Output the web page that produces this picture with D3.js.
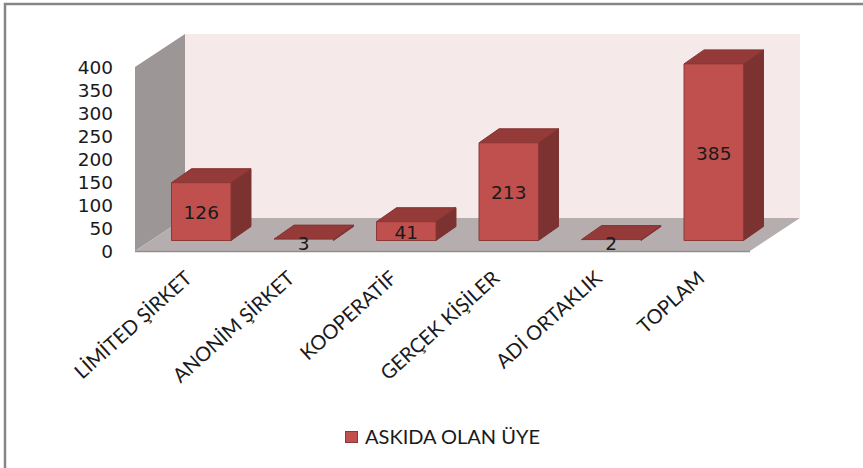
<!DOCTYPE html>
<html><head><meta charset="utf-8">
<script src="https://cdn.jsdelivr.net/npm/d3@7"></script>
<style>html,body{margin:0;padding:0;background:#fff}svg{display:block}</style></head>
<body><div id="c"></div>
<script>
const categories = ["LİMİTED ŞİRKET","ANONİM ŞİRKET","KOOPERATİF","GERÇEK KİŞİLER","ADİ ORTAKLIK","TOPLAM"];
const seriesName = "ASKIDA OLAN ÜYE";
const values = [126,3,41,213,2,385];
const yTicks = [0,50,100,150,200,250,300,350,400];

const W=863,H=468;
const svg=d3.select("#c").append("svg").attr("width",W).attr("height",H);
svg.append("rect").attr("x",5).attr("y",4).attr("width",W+10).attr("height",H+10)
  .attr("fill","#fff").attr("stroke","#868686").attr("stroke-width",2.5);

const y=d3.scaleLinear().domain([0,400]).range([251,67]);
const yBar=d3.scaleLinear().domain([0,400]).range([240.5,57]);
const x=d3.scaleBand().domain(categories).range([150,765]).paddingInner(0.42).paddingOuter(0.21);
const xL=135,xR=750;
const wall={dx:50,dy:-33}, bar={dx:20,dy:-14};
const poly=(pts,fill,stroke)=>svg.append("polygon").attr("points",pts.map(p=>p.join(",")).join(" "))
  .attr("fill",fill).attr("stroke",stroke||"none").attr("stroke-width",stroke?1:0);

const y0=y(0),yT=y(400);
poly([[xL+wall.dx,yT+wall.dy],[xR+wall.dx,yT+wall.dy],[xR+wall.dx,y0+wall.dy],[xL+wall.dx,y0+wall.dy]],"#f5e9e9");
poly([[xL,yT],[xL+wall.dx,yT+wall.dy],[xL+wall.dx,y0+wall.dy],[xL,y0]],"#9c9696");
poly([[xL,y0],[xL+wall.dx,y0+wall.dy],[xR+wall.dx,y0+wall.dy],[xR,y0]],"#b6aeae");
svg.append("line").attr("x1",xL).attr("x2",xR).attr("y1",y0+.5).attr("y2",y0+.5).attr("stroke","#8f8f8f").attr("stroke-width",1.5);

values.forEach((v,i)=>{
  const c=categories[i],a=x(c),b=a+x.bandwidth(),t=yBar(v),z=yBar(0);
  poly([[b,t],[b+bar.dx,t+bar.dy],[b+bar.dx,z+bar.dy],[b,z]],"#7c3230","#7c3230");
  poly([[a,t],[a+bar.dx,t+bar.dy],[b+bar.dx,t+bar.dy],[b,t]],"#943a38","#863432");
  if(z-t>2) poly([[a,t],[b,t],[b,z],[a,z]],"#c0504d","#8c3836");
});
values.forEach((v,i)=>{
  const c=categories[i],cx=x(c)+x.bandwidth()/2,t=yBar(v),z=yBar(0);
  const ty=(z-t)>10?(t+z)/2:z;
  svg.append("text").attr("x",cx).attr("y",ty+(z-t>10?1:3)).attr("dy",".35em")
    .attr("text-anchor","middle").attr("font-family","DejaVu Sans").attr("font-size",18.5).attr("fill","#1a1a1a").text(v);
});
yTicks.forEach(t=>svg.append("text").attr("x",113).attr("y",y(t)).attr("dy",".36em")
  .attr("text-anchor","end").attr("font-family","DejaVu Sans").attr("font-size",18.5).attr("fill","#1a1a1a").text(t));

categories.forEach(c=>{
  const cx=x(c)+x.bandwidth()/2;
  svg.append("text").attr("transform",`translate(${cx-8},280) rotate(-42)`)
    .attr("text-anchor","end").attr("font-family","Lato").attr("font-size",20).attr("fill","#1a1a1a").text(c);
});

svg.append("rect").attr("x",345.5).attr("y",431.5).attr("width",12).attr("height",11).attr("fill","#c0504d").attr("stroke","#8c3836");
svg.append("text").attr("x",365).attr("y",444).attr("font-family","Lato").attr("font-size",20).attr("fill","#1a1a1a").text(seriesName);
</script></body></html>
